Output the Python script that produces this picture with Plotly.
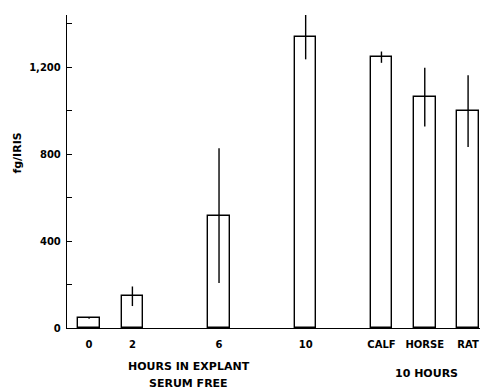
import plotly.graph_objects as go

# Bar positions on an hours-like scale; the serum groups sit to the right of 10 h
positions = [0, 2, 6, 10, 13.5, 15.5, 17.5]
tick_labels = ["0", "2", "6", "10", "CALF", "HORSE", "RAT"]
values = [46, 146, 517, 1341, 1246, 1062, 998]
errors = [4, 45, 310, 105, 26, 135, 165]

y_tickvals = [0, 200, 400, 600, 800, 1000, 1200, 1400]
y_ticktext = ["0", "", "400", "", "800", "", "1,200", ""]

FONT = "DejaVu Sans"
tick_font = dict(family=FONT, size=10, color="black", weight="bold")
title_font = dict(family=FONT, size=11, color="black", weight="bold")

fig = go.Figure()
fig.add_trace(go.Bar(
    x=positions,
    y=values,
    width=1.0,
    marker=dict(color="white", line=dict(color="black", width=1.4)),
    error_y=dict(type="data", array=errors, visible=True,
                 color="black", thickness=1.4, width=0),
    showlegend=False,
))

fig.update_layout(
    width=484, height=391,
    margin=dict(l=67, r=4, t=15, b=63),
    paper_bgcolor="white", plot_bgcolor="white",
    font=tick_font,
    bargap=0,
)

fig.update_xaxes(
    range=[-1.02, 18.05],
    tickvals=positions, ticktext=tick_labels,
    ticks="", showgrid=False, zeroline=False,
    showline=True, linecolor="black", linewidth=1.4,
    tickfont=tick_font, ticklabelstandoff=7,
)
fig.update_yaxes(
    range=[0, 1440],
    tickvals=y_tickvals, ticktext=y_ticktext,
    ticks="inside", ticklen=5, tickwidth=1.2, tickcolor="black",
    showgrid=False, zeroline=False,
    showline=True, linecolor="black", linewidth=1.4,
    tickfont=tick_font, ticklabelstandoff=3,
)

annots = [
    dict(text="HOURS IN EXPLANT", x=4.6, y=-0.122),
    dict(text="SERUM FREE", x=4.6, y=-0.178),
    dict(text="10 HOURS", x=15.6, y=-0.144),
]
for a in annots:
    fig.add_annotation(
        text=a["text"], x=a["x"], y=a["y"], xref="x", yref="paper",
        showarrow=False, xanchor="center", yanchor="middle",
        font=title_font,
    )

fig.add_annotation(
    text="fg/IRIS", x=-0.119, y=0.56, xref="paper", yref="paper",
    showarrow=False, textangle=-90, xanchor="center", yanchor="middle",
    font=title_font,
)

fig.write_html("out.html")
